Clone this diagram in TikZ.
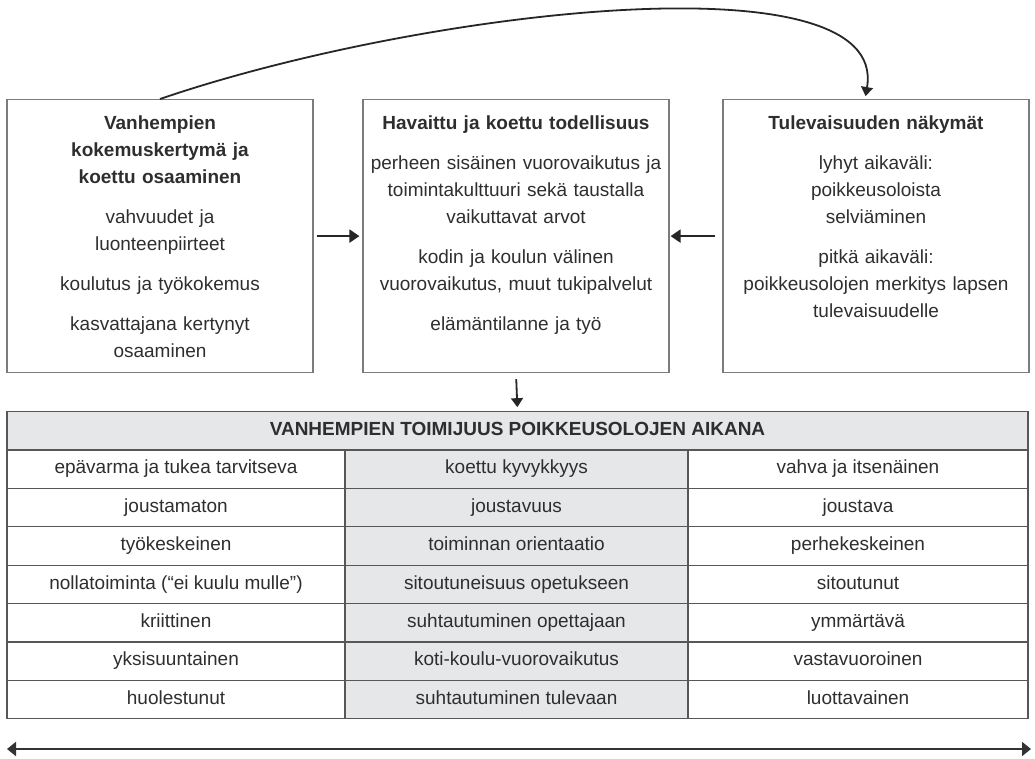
\documentclass[tikz,border=0pt]{standalone}
\usepackage{fontspec}
\setmainfont{Liberation Sans}
\usetikzlibrary{arrows.meta,positioning}
\definecolor{linegray}{HTML}{7C7C7C}
\definecolor{cellgray}{HTML}{E6E7E9}
\definecolor{textgray}{HTML}{2E2E2E}

\begin{document}
\begin{tikzpicture}[x=1pt,y=-1pt]
\tikzstyle{plain}=[draw=linegray, line width=1.2pt, minimum width=306pt, minimum height=273pt, inner sep=0pt, anchor=north]
\tikzstyle{boxtext}=[text=textgray, align=center, text width=298pt, inner sep=0pt, font=\fontsize{19}{27}\selectfont]
\tikzstyle{cell}=[draw=linegray!70!black, line width=1.3pt, minimum height=38.4pt, inner sep=0pt, text height=13.5pt, text depth=4pt, text=textgray, font=\fontsize{19}{23}\selectfont]
\tikzstyle{link}=[-{Triangle[length=10pt,width=13pt]}, line width=2.2pt, draw=black!85]
\tikzstyle{thinlink}=[-{Triangle[length=9pt,width=12pt]}, line width=1.8pt, draw=black!85]

\useasboundingbox (0,0) rectangle (1035,758);

\draw node [plain] (past) at (160,99) {};
\draw node [plain] (now) at (516,99) {};
\draw node [plain] (future) at (876,99) {};

\draw node [boxtext, below=17pt of past.north] (pastText) {\textbf{Vanhempien}\\\textbf{kokemuskertymä ja}\\\textbf{koettu osaaminen}\\[13pt]
  vahvuudet ja\\luonteenpiirteet\\[13pt]
  koulutus ja työkokemus\\[13pt]
  kasvattajana kertynyt\\osaaminen};
\draw node [boxtext, below=17pt of now.north] (nowText) {\textbf{Havaittu ja koettu todellisuus}\\[13pt]
  perheen sisäinen vuorovaikutus ja\\toimintakulttuuri sekä taustalla\\vaikuttavat arvot\\[13pt]
  kodin ja koulun välinen\\vuorovaikutus, muut tukipalvelut\\[13pt]
  elämäntilanne ja työ};
\draw node [boxtext, below=17pt of future.north] (futureText) {\textbf{Tulevaisuuden näkymät}\\[13pt]
  lyhyt aikaväli:\\poikkeusoloista\\selviäminen\\[13pt]
  pitkä aikaväli:\\poikkeusolojen merkitys lapsen\\tulevaisuudelle};

\draw node [cell, fill=cellgray, minimum width=1021pt, font=\bfseries\fontsize{19}{23}\selectfont] (head) at (517.5,431) {VANHEMPIEN TOIMIJUUS POIKKEUSOLOJEN AIKANA};

\foreach \a/\b/\c [count=\i] in {
  epävarma ja tukea tarvitseva/koettu kyvykkyys/vahva ja itsenäinen,
  joustamaton/joustavuus/joustava,
  työkeskeinen/toiminnan orientaatio/perhekeskeinen,
  nollatoiminta (“ei kuulu mulle”)/sitoutuneisuus opetukseen/sitoutunut,
  kriittinen/suhtautuminen opettajaan/ymmärtävä,
  yksisuuntainen/koti-koulu-vuorovaikutus/vastavuoroinen,
  huolestunut/suhtautuminen tulevaan/luottavainen}
{
  \draw node [cell, minimum width=338pt] (low\i) at (176,{469.2+38.4*(\i-1)}) {\a};
  \draw node [cell, fill=cellgray, minimum width=343pt] (mid\i) at (516.5,{469.2+38.4*(\i-1)}) {\b};
  \draw node [cell, minimum width=340pt] (high\i) at (858,{469.2+38.4*(\i-1)}) {\c};
}

\draw [link, shorten <=3pt, shorten >=3pt] (past) -- (now);
\draw [link, shorten <=7pt, shorten >=1pt] (future) -- (now);
\draw [thinlink, shorten <=6pt, shorten >=4pt] (now.south) -- (head.north);
\draw [thinlink, shorten >=3pt] (past.north) .. controls (420,10) and (890,-45) .. ([xshift=-11pt]future.north);

\coordinate (left) at (7,749);
\coordinate (right) at (1031,749);
\draw [{Triangle[length=9pt,width=14pt]}-{Triangle[length=9pt,width=14pt]}, line width=2pt, draw=black!80] (left) -- (right);
\end{tikzpicture}
\end{document}
